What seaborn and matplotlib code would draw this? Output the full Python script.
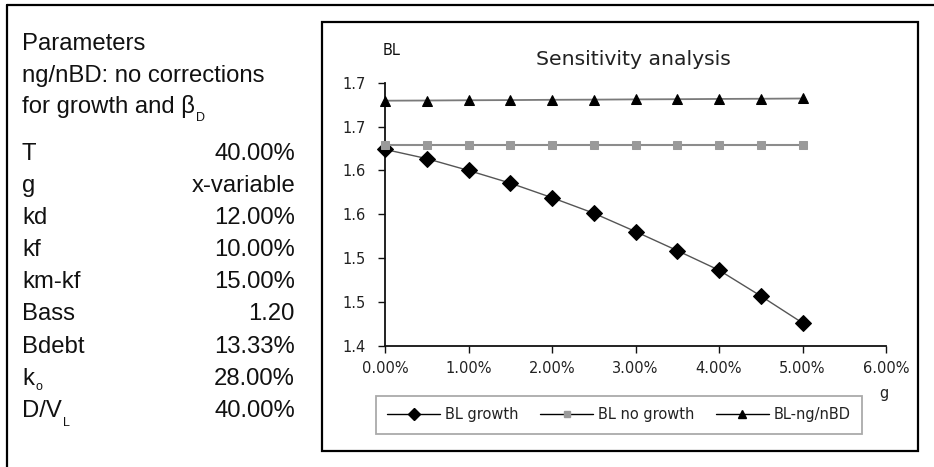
import matplotlib
matplotlib.use("Agg")
import matplotlib.pyplot as plt
import seaborn as sns
import pandas as pd
from matplotlib.lines import Line2D
from matplotlib.patches import Rectangle

# ---------------- data ----------------
g_values = [0.000, 0.005, 0.010, 0.015, 0.020, 0.025, 0.030, 0.035, 0.040, 0.045, 0.050]
bl_growth = [1.624, 1.6135, 1.600, 1.5856, 1.569, 1.5513, 1.5304, 1.5087, 1.4864, 1.457, 1.4263]
bl_no_growth = [1.6288, 1.6288, 1.6288, 1.6288, 1.6288, 1.6288, 1.6288, 1.6288, 1.6288, 1.6288, 1.6288]
bl_ng_nbd = [1.6795, 1.6797, 1.6800, 1.6802, 1.6805, 1.6807, 1.6810, 1.6812, 1.6815, 1.6817, 1.6820]
series_names = ["BL growth", "BL no growth", "BL-ng/nBD"]

x_ticks = [0.00, 0.01, 0.02, 0.03, 0.04, 0.05, 0.06]
x_tick_labels = ["0.00%", "1.00%", "2.00%", "3.00%", "4.00%", "5.00%", "6.00%"]
y_ticks = [1.40, 1.45, 1.50, 1.55, 1.60, 1.65, 1.70]
y_tick_labels = ["1.4", "1.5", "1.5", "1.6", "1.6", "1.7", "1.7"]

# (main text, subscript)
param_header = [("Parameters", ""), ("ng/nBD: no corrections", ""), ("for growth and β", "D")]
param_names = [("T", ""), ("g", ""), ("kd", ""), ("kf", ""), ("km-kf", ""), ("Bass", ""),
               ("Bdebt", ""), ("k", "o"), ("D/V", "L")]
param_values = ["40.00%", "x-variable", "12.00%", "10.00%", "15.00%", "1.20", "13.33%", "28.00%", "40.00%"]

# ---------------- style ----------------
sns.set_theme(style="white")
plt.rcParams['font.family'] = ['DejaVu Sans']

W, H = 934, 467
fig = plt.figure(figsize=(W / 100, H / 100), dpi=100)
fig.patch.set_facecolor('white')
renderer = fig.canvas.get_renderer()

def fx(px):
    return px / W

def fy(py):
    return 1 - py / H

# outer frame (top and left)
fig.add_artist(Line2D([fx(7), 1.0], [fy(5), fy(5)], color='black', lw=1.6))
fig.add_artist(Line2D([fx(7), fx(7)], [0.0, fy(5)], color='black', lw=1.6))
# chart box
fig.add_artist(Rectangle((fx(322), fy(451)), fx(918) - fx(322), fy(22) - fy(451),
                         fill=False, edgecolor='black', lw=1.6))

# left parameter panel
pfont = dict(fontfamily='Liberation Sans', fontsize=17.2, color='#111111')
sfont = dict(fontfamily='Liberation Sans', fontsize=9.0, color='#111111')
sub_drop = {"D": 8, "o": 5, "L": 9}

def panel_text(x_px, yb_px, main, sub):
    t = fig.text(fx(x_px), fy(yb_px), main, ha='left', va='baseline', **pfont)
    if sub:
        bb = t.get_window_extent(renderer=renderer)
        fig.text(bb.x1 / W + fx(1), fy(yb_px + sub_drop.get(sub, 8)), sub,
                 ha='left', va='baseline', **sfont)

header_base = [50, 81.7, 113.3]
for (m, s), yb in zip(param_header, header_base):
    panel_text(22, yb, m, s)
row_base0, row_step = 160, 32.1
for i, ((m, s), v) in enumerate(zip(param_names, param_values)):
    yb = row_base0 + i * row_step
    panel_text(22, yb, m, s)
    fig.text(fx(295), fy(yb), v, ha='right', va='baseline', **pfont)

# ---------------- chart ----------------
ax = fig.add_axes([fx(385), fy(346), fx(886) - fx(385), fy(82.7) - fy(346)])
ax.set_facecolor('white')

sns.lineplot(x=g_values, y=bl_growth, ax=ax, color='#555555', lw=1.0,
             marker='D', markersize=8, markerfacecolor='black', markeredgecolor='black',
             clip_on=False, legend=False, zorder=3)
sns.lineplot(x=g_values, y=bl_no_growth, ax=ax, color='#8c8c8c', lw=1.5,
             marker='s', markersize=6, markerfacecolor='#9a9a9a', markeredgecolor='#9a9a9a',
             clip_on=False, legend=False, zorder=4)
sns.lineplot(x=g_values, y=bl_ng_nbd, ax=ax, color='#7a7a7a', lw=1.3,
             marker='^', markersize=7.5, markerfacecolor='black', markeredgecolor='black',
             clip_on=False, legend=False, zorder=5)

ax.set_xlim(0, 0.06)
ax.set_ylim(1.40, 1.70)
ax.set_xticks(x_ticks)
ax.set_xticklabels(x_tick_labels)
ax.set_yticks(y_ticks)
ax.set_yticklabels(y_tick_labels)
ax.set_xlabel("")
ax.set_ylabel("")
for s in ['top', 'right']:
    ax.spines[s].set_visible(False)
for s in ['left', 'bottom']:
    ax.spines[s].set_visible(True)
    ax.spines[s].set_color('#111111')
    ax.spines[s].set_linewidth(1.3)
ax.tick_params(axis='both', which='major', bottom=True, left=True, direction='out',
               length=5, width=1.0, color='#111111', labelsize=10.5, labelcolor='#222222')
ax.tick_params(axis='y', pad=9)
ax.tick_params(axis='x', pad=6)
ax.grid(False)

# texts in chart
fig.text(fx(633), fy(65), "Sensitivity analysis", ha='center', va='baseline',
         fontsize=14.7, color='#222222')
fig.text(fx(392), fy(55), "BL", ha='center', va='baseline', fontsize=10.5, color='#111111')
fig.text(fx(884), fy(398), "g", ha='center', va='baseline', fontsize=10.5, color='#222222')

# legend
handles = [
    Line2D([], [], color='black', lw=1.0, marker='D', markersize=6,
           markerfacecolor='black', markeredgecolor='black'),
    Line2D([], [], color='black', lw=1.0, marker='s', markersize=5,
           markerfacecolor='#9a9a9a', markeredgecolor='#9a9a9a'),
    Line2D([], [], color='black', lw=1.0, marker='^', markersize=6,
           markerfacecolor='black', markeredgecolor='black'),
]
leg = fig.legend(handles, series_names, ncol=3, loc='center',
                 bbox_to_anchor=(fx(619), fy(415)), frameon=True, fancybox=False,
                 edgecolor='#aaaaaa', framealpha=1, fontsize=10.5, handlelength=3.6,
                 handletextpad=0.35, columnspacing=1.5, borderpad=0.8)
leg.get_frame().set_linewidth(1.3)
for t in leg.get_texts():
    t.set_color('#222222')

fig.savefig("out.png", dpi=100, facecolor='white')
